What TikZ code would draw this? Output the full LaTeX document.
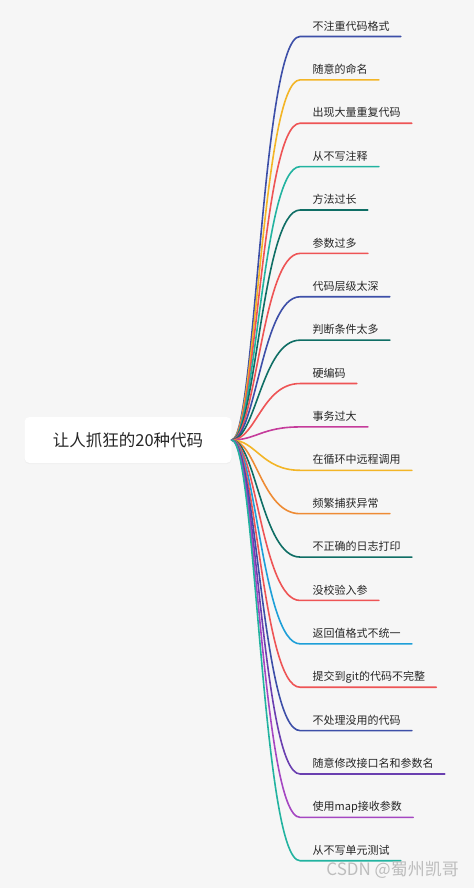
\documentclass[tikz,border=0pt]{standalone}
\usepackage{fontspec}
\setmainfont{Noto Sans CJK SC}
\usetikzlibrary{positioning, calc, shadows}
\definecolor{cbg}{HTML}{F6F6F6}
\definecolor{ctext}{HTML}{262626}
\definecolor{cnavy}{HTML}{3D4FA8}
\definecolor{cyellow}{HTML}{F3B526}
\definecolor{cred}{HTML}{EE5455}
\definecolor{cteal}{HTML}{22B3A0}
\definecolor{cdteal}{HTML}{0F6E65}
\definecolor{cmagenta}{HTML}{C53C9B}
\definecolor{corange}{HTML}{EE8B34}
\definecolor{ccyan}{HTML}{1E9FD8}
\definecolor{cpurple}{HTML}{6A3FB0}
\definecolor{cviolet}{HTML}{A547C2}
\tikzset{
  rootbox/.style={fill=white, rounded corners=5pt, minimum width=207pt, minimum height=46pt,
    text=ctext, font=\fontsize{16.5}{19}\selectfont,
    drop shadow={shadow xshift=0pt, shadow yshift=-1.2pt, opacity=0.06}},
  leaf/.style={anchor=west, inner sep=0pt, text=ctext, font=\fontsize{11}{13}\selectfont},
  branch/.style={draw=#1, line width=1.6pt, line cap=round},
  watermark/.style={text=black!26, font=\fontsize{17}{20}\selectfont, anchor=east, inner sep=0pt},
}
\begin{document}
\begin{tikzpicture}[x=1pt, y=-1pt]
  \fill[cbg] (0,0) rectangle (474,888);
  \useasboundingbox (0,0) rectangle (474,888);
  \node[rootbox] (root) at (128,440) {让人抓狂的20种代码};
  % one branch per bad habit, top to bottom
  \foreach \col/\txt [count=\i from 0] in {
      cnavy/不注重代码格式, cyellow/随意的命名, cred/出现大量重复代码, cteal/从不写注释,
      cdteal/方法过长, cred/参数过多, cnavy/代码层级太深, cdteal/判断条件太多,
      cred/硬编码, cmagenta/事务过大, cyellow/在循环中远程调用, corange/频繁捕获异常,
      cdteal/不正确的日志打印, cred/没校验入参, ccyan/返回值格式不统一, cred/提交到git的代码不完整,
      cnavy/不处理没用的代码, cpurple/随意修改接口名和参数名, cviolet/使用map接收参数, cteal/从不写单元测试} {
    \pgfmathsetmacro{\yy}{36.5+43.38*\i}
    \coordinate (b\i) at (300,\yy);
    \node[leaf] (t\i) at (312.5,\yy-10.5) {\txt};
    \coordinate (e\i) at ($(t\i.east)+(11,10.5)$);
    \draw[branch=\col] (root.east) .. controls +(24,0) and +(-38,0) .. (b\i) -- (e\i);
  }
  \node[watermark] (wm) at (459,870) {CSDN @蜀州凯哥};
\end{tikzpicture}
\end{document}
